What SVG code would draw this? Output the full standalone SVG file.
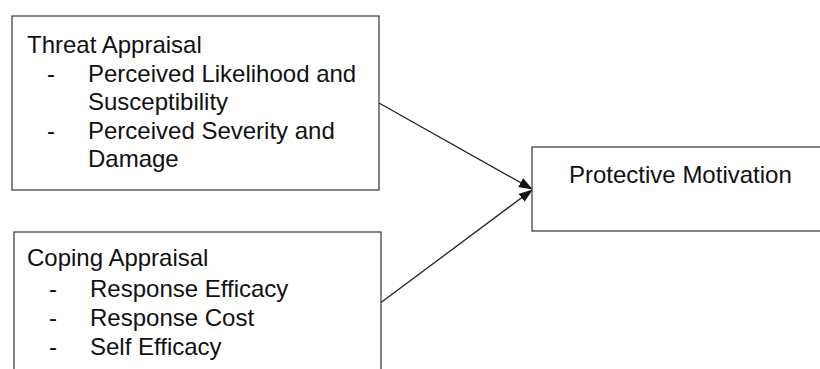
<svg xmlns="http://www.w3.org/2000/svg" width="820" height="369" viewBox="0 0 820 369">
<style>
.box{fill:#fff;stroke:#444;stroke-width:1.3}
.t{font-family:"Liberation Sans",Arial,sans-serif;font-size:24px;fill:#111}
.c{stroke:#222;stroke-width:1.3;fill:none}
</style>
<defs>
<marker id="ah" markerWidth="14" markerHeight="10" refX="13" refY="5" orient="auto" markerUnits="userSpaceOnUse">
<path d="M0,0 L14,5 L0,10 z" fill="#111"/>
</marker>
</defs>
<rect width="820" height="369" fill="#fff"/>
<g id="connectors">
<line class="c" x1="379" y1="103" x2="532" y2="189" marker-end="url(#ah)"/>
<line class="c" x1="381" y1="302.5" x2="532" y2="190" marker-end="url(#ah)"/>
</g>
<g id="threat">
<rect class="box" x="12" y="16" width="367" height="174"/>
<text class="t" x="27" y="53">Threat Appraisal</text>
<text class="t" x="47" y="82">-</text>
<text class="t" x="88" y="82">Perceived Likelihood and</text>
<text class="t" x="88" y="110">Susceptibility</text>
<text class="t" x="47" y="139">-</text>
<text class="t" x="88" y="139">Perceived Severity and</text>
<text class="t" x="88" y="167">Damage</text>
</g>
<g id="coping">
<rect class="box" x="14" y="232" width="367" height="150"/>
<text class="t" x="27" y="266">Coping Appraisal</text>
<text class="t" x="49" y="297">-</text>
<text class="t" x="90" y="297">Response Efficacy</text>
<text class="t" x="49" y="326">-</text>
<text class="t" x="90" y="326">Response Cost</text>
<text class="t" x="49" y="355">-</text>
<text class="t" x="90" y="355">Self Efficacy</text>
</g>
<g id="protective">
<rect class="box" x="532" y="147" width="300" height="84"/>
<text class="t" x="569" y="183">Protective Motivation</text>
</g>
</svg>
